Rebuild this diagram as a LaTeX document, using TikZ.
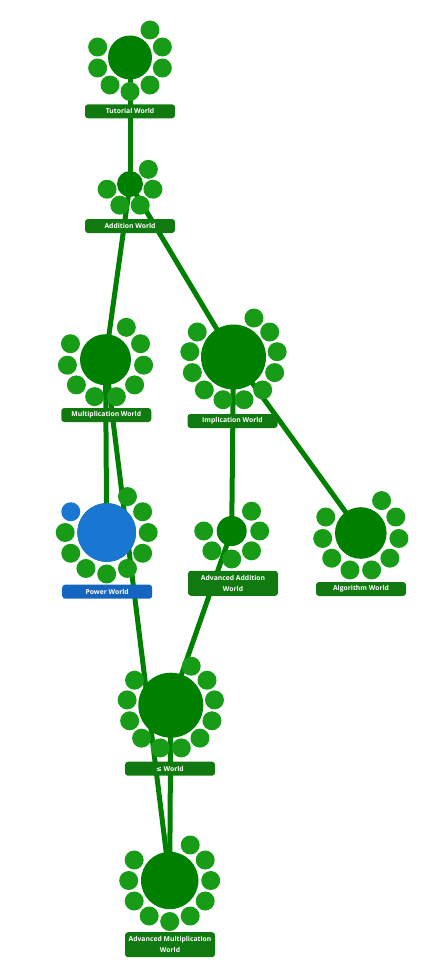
\documentclass[tikz,border=0pt]{standalone}
\usepackage{fontspec}
\setmainfont{Open Sans}
\newfontfamily\symfont{DejaVu Sans}
\usetikzlibrary{calc}

\definecolor{worldgreen}{RGB}{0,128,0}
\definecolor{levelgreen}{RGB}{24,156,24}
\definecolor{labelgreen}{RGB}{16,122,16}
\definecolor{worldblue}{RGB}{25,118,210}
\definecolor{labelblue}{RGB}{21,101,192}

\pgfdeclarelayer{edges}
\pgfdeclarelayer{levels}
\pgfsetlayers{edges,levels,main}

\tikzset{
  worldcircle/.style={circle, fill=worldgreen, inner sep=0pt},
  edgeline/.style={draw=worldgreen, line width=5pt},
  worldlabel/.style={fill=labelgreen, rounded corners=3pt, text=white,
    font=\bfseries\fontsize{6.8}{11}\selectfont, minimum width=90pt,
    minimum height=14pt, inner sep=1pt, align=center},
}

% #1 name, #2/#3 centre, #4 radius, #5 orbit radius of the level dots,
% #6 number of levels, #7 colour of the last level dot
\newcommand\worldnode[7]{%
  \node[worldcircle, minimum size={2*#4pt}] (#1) at (#2,#3) {};
  \begin{pgfonlayer}{levels}
    \foreach \k in {1,...,#6}{%
      \ifnum\k=#6 \def\dotcol{#7}\else\def\dotcol{levelgreen}\fi
      \fill[\dotcol] (#1.center) ++({\k*360/(#6+2)-90}:#5) circle[radius=9.5pt];
    }
  \end{pgfonlayer}}

\begin{document}
\begin{tikzpicture}[x=1pt, y=-1pt]
  \useasboundingbox (0,0) rectangle (431,972);

  % worlds with their level dots
  \worldnode{T}{130}{57.5}{22}{34}{8}{levelgreen}
  \worldnode{A}{130}{184}{13}{23.5}{5}{levelgreen}
  \worldnode{M}{105.5}{359.7}{25.5}{38.5}{9}{levelgreen}
  \worldnode{I}{233.5}{357}{32.5}{44}{11}{levelgreen}
  \worldnode{P}{106.7}{532.5}{29.3}{41.5}{10}{worldblue}
  \node[worldcircle, fill=worldblue, minimum size=58.6pt] at (P) {};
  \worldnode{AA}{231.7}{531}{15}{28}{6}{levelgreen}
  \worldnode{Alg}{360.8}{533}{25.8}{38.5}{9}{levelgreen}
  \worldnode{LE}{170.8}{705.2}{32.5}{44}{11}{levelgreen}
  \worldnode{AM}{169.7}{880.5}{28.7}{41}{10}{levelgreen}

  % dependencies between worlds
  \begin{pgfonlayer}{edges}
    \draw[edgeline] (T.center) -- (A.center);
    \draw[edgeline] (A.center) -- (M.center);
    \draw[edgeline] (A.center) -- (I.center);
    \draw[edgeline] (M.center) -- (P.center);
    \draw[edgeline] (M.center) -- (AM.center);
    \draw[edgeline] (I.center) -- (AA.center);
    \draw[edgeline] (I.center) -- (Alg.center);
    \draw[edgeline] (AA.center) -- (LE.center);
    \draw[edgeline] (LE.center) -- (AM.center);
  \end{pgfonlayer}

  % world titles
  \node[worldlabel] (Tl) at (130,111.3) {Tutorial World};
  \node[worldlabel] (Al) at (130,226) {Addition World};
  \node[worldlabel] (Ml) at (106.3,415) {Multiplication World};
  \node[worldlabel] (Il) at (232.5,421) {Implication World};
  \node[worldlabel, fill=labelblue] (Pl) at (107.2,591.7) {Power World};
  \node[worldlabel, minimum height=25pt] (AAl) at (233,583.3) {Advanced Addition\\World};
  \node[worldlabel] (Algl) at (361,589) {Algorithm World};
  \node[worldlabel] (LEl) at (170,768.7) {{\symfont\bfseries ≤} World};
  \node[worldlabel, minimum height=25pt] (AMl) at (170,944.7) {Advanced Multiplication\\World};
\end{tikzpicture}
\end{document}
